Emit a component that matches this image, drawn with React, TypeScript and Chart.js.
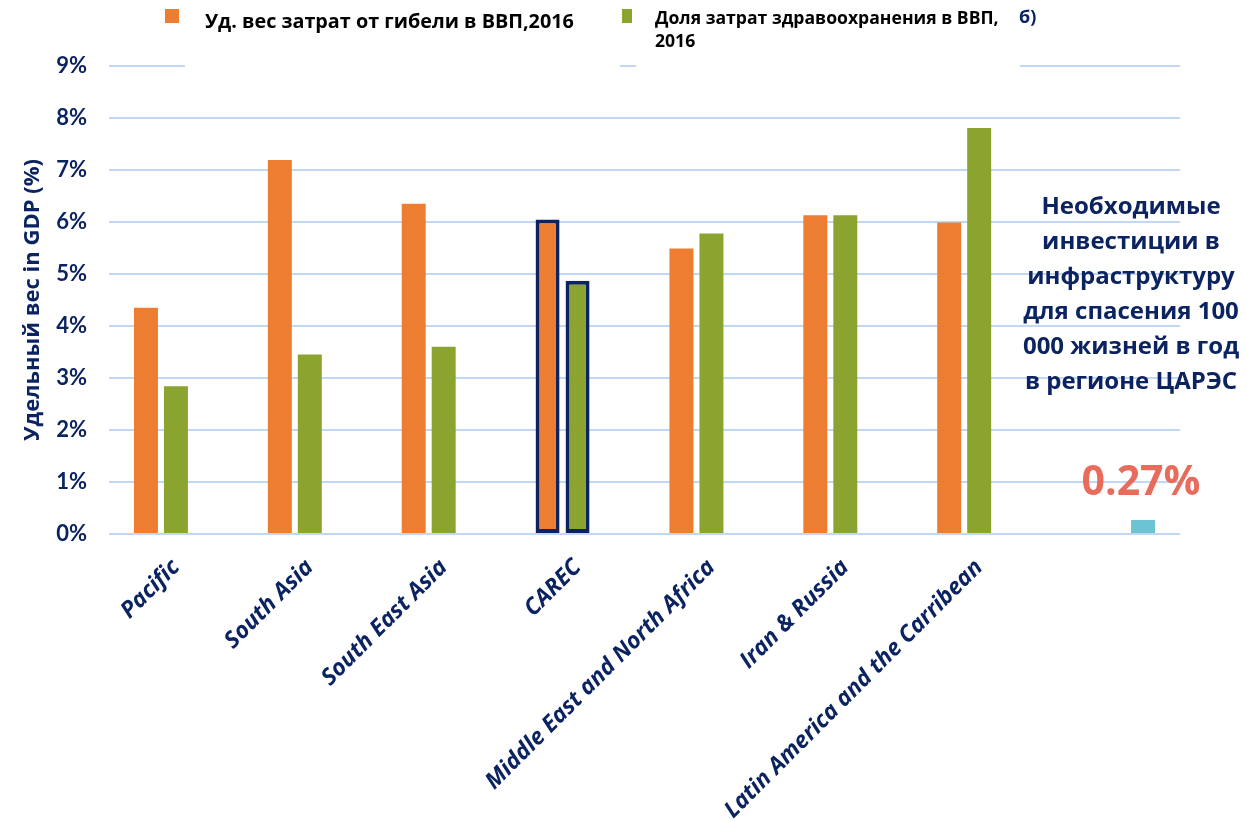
import React, { useEffect, useRef } from "react";
import { Chart, registerables } from "chart.js";

Chart.register(...registerables);

const categories = [
  "Pacific",
  "South Asia",
  "South East Asia",
  "CAREC",
  "Middle East and North Africa",
  "Iran & Russia",
  "Latin America and the Carribean",
  "",
];
const lossShare = [4.35, 7.19, 6.35, 6.05, 5.49, 6.13, 5.99, null];
const healthShare = [2.84, 3.45, 3.6, 4.87, 5.78, 6.13, 7.81, null];
const investShare = [null, null, null, null, null, null, null, 0.27];
const yTicks = [0, 1, 2, 3, 4, 5, 6, 7, 8, 9];
const legendLoss = "Уд. вес затрат от гибели в ВВП,2016";
const legendHealth1 = "Доля затрат здравоохранения в ВВП,";
const legendHealth2 = "2016";
const legendExtra = "б)";
const noteLines = [
  "Необходимые",
  "инвестиции в",
  "инфраструктуру",
  "для спасения 100",
  "000 жизней в год",
  "в регионе ЦАРЭС",
];
const noteValue = "0.27%";
const yTitle = "Удельный вес in GDP (%)";

const NAVY = "#0b2461";
const ORANGE = "#ed7d31";
const GREEN = "#8ba42f";
const TEAL = "#6cc3d1";
const SALMON = "#e96b5b";
const GRID = "#c2d7f4";
const CAREC_INDEX = 3;

const FONT_LAT = "Lato, 'Open Sans', sans-serif";
const FONT_CYR = "'Open Sans', 'Noto Sans', sans-serif";

const overlayPlugin = {
  id: "overlay",
  afterDraw(chart: any) {
    const ctx = chart.ctx;
    ctx.save();
    ctx.fillStyle = "#ffffff";
    ctx.fillRect(185, 56, 435, 20);
    ctx.fillRect(636, 56, 384, 20);
    ctx.fillStyle = ORANGE;
    ctx.fillRect(165, 9, 14, 14);
    ctx.fillStyle = GREEN;
    ctx.fillRect(622, 9, 10, 14);
    ctx.fillStyle = "#000000";
    ctx.textBaseline = "middle";
    ctx.textAlign = "left";
    ctx.font = `bold 19.8px ${FONT_CYR}`;
    ctx.fillText(legendLoss, 205, 22);
    ctx.font = `bold 17.6px ${FONT_CYR}`;
    ctx.fillText(legendHealth1, 655, 19);
    ctx.fillText(legendHealth2, 655, 42);
    ctx.fillStyle = NAVY;
    ctx.font = `bold 18px ${FONT_CYR}`;
    ctx.fillText(legendExtra, 1019, 18);

    ctx.textAlign = "center";
    ctx.fillStyle = NAVY;
    ctx.font = `bold 24px ${FONT_CYR}`;
    noteLines.forEach((line, i) => {
      ctx.fillText(line, 1131, 207 + i * 35);
    });
    ctx.fillStyle = SALMON;
    ctx.font = `bold 41px ${FONT_CYR}`;
    ctx.fillText(noteValue, 1141, 483);
    ctx.restore();
  },
};

export default function App() {
  const ref = useRef<HTMLCanvasElement | null>(null);

  useEffect(() => {
    if (!ref.current) return;
    const careBorder = categories.map((_, i) => (i === CAREC_INDEX ? 4 : 0));
    const chart = new Chart(ref.current, {
      type: "bar",
      data: {
        labels: categories,
        datasets: [
          {
            label: legendLoss,
            data: lossShare,
            backgroundColor: ORANGE,
            borderColor: NAVY,
            borderWidth: careBorder,
            borderSkipped: false,
          },
          {
            label: legendHealth1 + " " + legendHealth2,
            data: healthShare,
            backgroundColor: GREEN,
            borderColor: NAVY,
            borderWidth: careBorder,
            borderSkipped: false,
          },
          {
            label: noteValue,
            data: investShare,
            backgroundColor: TEAL,
            borderWidth: 0,
          },
        ],
      },
      options: {
        animation: false,
        responsive: true,
        maintainAspectRatio: false,
        categoryPercentage: 0.672,
        barPercentage: 0.8,
        layout: { padding: { top: 66, right: 67, left: 0, bottom: 0 } },
        plugins: {
          legend: { display: false },
          tooltip: { enabled: false },
        },
        scales: {
          x: {
            grid: { display: false },
            border: { display: false },
            ticks: {
              color: NAVY,
              font: { family: FONT_CYR, size: 23, weight: "bold", style: "italic" },
              maxRotation: 45,
              minRotation: 45,
              autoSkip: false,
              padding: 12,
            },
            afterFit(scale: any) {
              scale.height = 287;
            },
          },
          y: {
            min: 0,
            max: 9,
            afterBuildTicks(scale: any) {
              scale.ticks = yTicks.map((v) => ({ value: v }));
            },
            grid: { color: GRID, lineWidth: 2, drawTicks: false },
            border: { display: false },
            ticks: {
              color: NAVY,
              font: { family: FONT_LAT, size: 22, weight: "bold" },
              padding: 22,
              callback: (v: any) => `${v}%`,
            },
            title: {
              display: true,
              text: yTitle,
              color: NAVY,
              font: { family: FONT_CYR, size: 22, weight: "bold" },
              padding: { top: 20, bottom: 0 },
            },
            afterFit(scale: any) {
              scale.width = 109;
            },
          },
        },
      },
      plugins: [overlayPlugin],
    });
    return () => chart.destroy();
  }, []);

  return (
    <div style={{ position: "fixed", left: 0, top: 0, width: 1247, height: 821, background: "#fff" }}>
      <canvas ref={ref} />
    </div>
  );
}
